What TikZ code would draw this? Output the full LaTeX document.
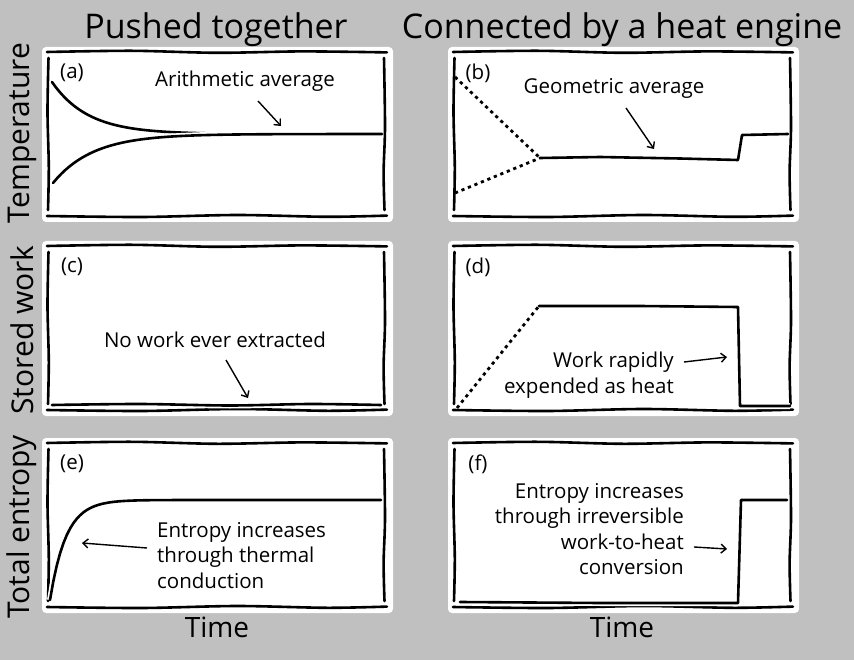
\documentclass[tikz,border=0pt]{standalone}
\usepackage{fontspec}
\setmainfont{Open Sans}
\usetikzlibrary{arrows.meta}

\definecolor{paneback}{RGB}{192,192,192}

\begin{document}
\begin{tikzpicture}[x=1pt, y=-1pt,
    ink/.style={line width=2.6pt, line cap=round, line join=round, preaction={draw, white, line width=6pt}},
    dotink/.style={line width=2.8pt, dash pattern=on 3.2pt off 3.8pt},
    note/.style={font=\fontsize{20.5}{25.5}\selectfont, inner sep=0pt},
    heading/.style={font=\fontsize{34}{40}\selectfont, inner sep=0pt},
    axislabel/.style={font=\fontsize{30}{36}\selectfont, inner sep=0pt},
    pointer/.style={line width=1.4pt, -{Straight Barb[length=5pt, width=9pt]}}]

    % grey page, fixed to the size of the reference
    \fill[paneback] (0,0) rectangle (854,660);
    \useasboundingbox (0,0) rectangle (854,660);

    % six hand drawn panels with their letters
    \foreach \px/\py/\tag in {47/52/a, 453/52/b, 47/246/c, 453/246/d, 47/443/e, 453/443/f} {
      \begin{scope}[shift={(\px,\py)}]
        \fill[white, rounded corners=4pt] (-5,-5) rectangle (346,170);
        \draw[ink] plot[smooth] coordinates {(0,0) (85,-1.2) (170,0.8) (255,-0.6) (340,0.4)};
        \draw[ink] plot[smooth] coordinates {(0,164) (95,165) (190,163) (280,164.8) (340,163.6)};
        \draw[ink] plot[smooth] coordinates {(1.5,6) (0.5,60) (1.8,115) (1,158)};
        \draw[ink] plot[smooth] coordinates {(337,6) (338,75) (336.6,120) (337.5,158)};
        \node[note] (tag\tag) at (25,21) {(\tag)};
      \end{scope}
    }

    % column titles
    \node[heading, anchor=base] (pushed) at (216,39) {Pushed together};
    \node[heading, anchor=base] (engine) at (622,39) {Connected by a heat engine};

    % row labels and time axes
    \node[axislabel, rotate=90] (temp) at (22,133) {Temperature};
    \node[axislabel, rotate=90] (work) at (22,330) {Stored work};
    \node[axislabel, rotate=90] (entropy) at (22,527) {Total entropy};
    \node[axislabel, font=\fontsize{28}{34}\selectfont, anchor=base] (timeleft) at (217,637) {Time};
    \node[axislabel, font=\fontsize{28}{34}\selectfont, anchor=base] (timeright) at (622,637) {Time};

    % (a) hot and cold body relax to the same temperature
    \draw[ink] plot[domain=52:205, samples=50] (\x, {134-52*exp(-(\x-52)/36)});
    \draw[ink] plot[domain=53:382, samples=80] (\x, {134+49*exp(-(\x-53)/40)});
    \node[note, anchor=base] (arith) at (245,87) {Arithmetic average};
    \coordinate (arithtail) at (258,101);
    \coordinate (arithtip) at (281,126);
    \draw[pointer] (arithtail) -- (arithtip);

    % (b) temperatures meet at the geometric mean, then jump
    \coordinate (hotstart) at (455,77);
    \coordinate (coldstart) at (455,193);
    \coordinate (meet) at (540,158);
    \draw[dotink] (hotstart) -- (meet);
    \draw[dotink] (coldstart) -- (meet);
    \draw[ink] (meet) -- (600,157) -- (680,158.5) -- (738,160) -- (742,135) -- (788,134);
    \node[note, anchor=base] (geom) at (614,94) {Geometric average};
    \coordinate (geomtail) at (626,108);
    \coordinate (geomtip) at (654,149);
    \draw[pointer] (geomtail) -- (geomtip);

    % (c) nothing stored
    \draw[ink] plot[smooth] coordinates {(52,405) (140,404) (230,405.5) (310,404) (381,405)};
    \node[note, anchor=base] (nowork) at (215,347) {No work ever extracted};
    \coordinate (noworktail) at (226,360);
    \coordinate (noworktip) at (248,398);
    \draw[pointer] (noworktail) -- (noworktip);

    % (d) work builds up, then is spent
    \coordinate (workstart) at (457,408);
    \coordinate (workfull) at (539,306);
    \draw[dotink] (workstart) -- (workfull);
    \draw[ink] (workfull) -- (640,306) -- (738,307) -- (740,406) -- (790,406);
    \node[note, align=right, anchor=north east] (rapid) at (674,352) {Work rapidly\\expended as heat};
    \coordinate (rapidtail) at (684,362);
    \coordinate (rapidtip) at (727,357);
    \draw[pointer] (rapidtail) -- (rapidtip);

    % (e) entropy from conduction
    \draw[ink] plot[domain=50:381, samples=100] (\x, {500+100*exp(-(\x-50)/16)});
    \node[note, align=left, anchor=north west] (conduct) at (157,522) {Entropy increases\\through thermal\\conduction};
    \coordinate (conducttail) at (147,548);
    \coordinate (conducttip) at (82,543);
    \draw[pointer] (conducttail) -- (conducttip);

    % (f) entropy jumps when the work turns to heat
    \draw[ink] (460,602) -- (600,603) -- (738,603) -- (741,500) -- (787,500);
    \node[note, align=right, anchor=north east] (irrev) at (684,483) {Entropy increases\\through irreversible\\work-to-heat\\conversion};
    \coordinate (irrevtail) at (694,547);
    \coordinate (irrevtip) at (727,549);
    \draw[pointer] (irrevtail) -- (irrevtip);

\end{tikzpicture}
\end{document}
